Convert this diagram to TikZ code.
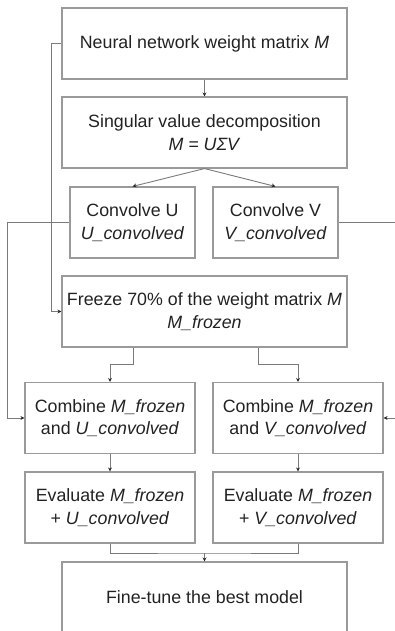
\documentclass[tikz,border=0pt]{standalone}
\usepackage{fontspec}
\setmainfont{Liberation Sans}
\usepackage{tikz}
\usetikzlibrary{arrows.meta,positioning}
\definecolor{boxgray}{HTML}{9A9A9A}
\definecolor{linegray}{HTML}{7A7A7A}
\definecolor{txt}{HTML}{222222}

\begin{document}
\begin{tikzpicture}[x=1pt,y=-1pt,
  box/.style={draw=boxgray, line width=1.1pt, align=center, text=txt,
    font=\fontsize{17.8}{22.5}\selectfont, inner sep=0pt},
  wide/.style={box, minimum width=285pt, minimum height=71pt},
  half/.style={box, minimum width=125pt, minimum height=71pt},
  pair/.style={box, minimum width=170pt, minimum height=71pt},
  flow/.style={draw=linegray, line width=0.9pt},
  arr/.style={flow, -{Stealth[length=4pt,width=4pt,color=black!85]}}]
\useasboundingbox (0,0) rectangle (395,631);
\clip (0,0) rectangle (395,631);
\node (nn) [wide] at (204.5,43.5) {Neural network weight matrix \textit{M}};
\node (svd) [wide] at (204.5,132.5) {Singular value decomposition\\\textit{M = UΣV}};
\node (convu) [half] at (132.5,222.5) {Convolve U\\\textit{U\_convolved}};
\node (convv) [half] at (275.5,222.5) {Convolve V\\\textit{V\_convolved}};
\node (freeze) [wide] at (204.5,311.5) {Freeze 70\% of the weight matrix \textit{M}\\\textit{M\_frozen}};
\node (combu) [pair] at (110,418) {Combine \textit{M\_frozen}\\and \textit{U\_convolved}};
\node (combv) [pair] at (298,418) {Combine \textit{M\_frozen}\\and \textit{V\_convolved}};
\node (evalu) [pair] at (110,507.5) {Evaluate \textit{M\_frozen}\\+ \textit{U\_convolved}};
\node (evalv) [pair] at (298,507.5) {Evaluate \textit{M\_frozen}\\+ \textit{V\_convolved}};
\node (fine) [wide] at (204.5,597.5) {Fine-tune the best model};
\coordinate (join) at (204.5,553);
% main chain
\draw[arr] (nn) -- (svd);
\draw[arr] (svd.south) -- (convu.north);
\draw[arr] (svd.south) -- (convv.north);
\draw[arr] (nn.west) -- ++(-10,0) |- (freeze.west);
\draw[arr] (convu.west) -- ++(-62,0) |- (combu.west);
\draw[arr] (convv.east) -- ++(70,0) |- (combv.east);
\draw[arr] ([xshift=-71.5pt]freeze.south) -- ++(0,17) -| (combu.north);
\draw[arr] ([xshift=53.5pt]freeze.south) -- ++(0,17) -| (combv.north);
\draw[arr] (combu) -- (evalu);
\draw[arr] (combv) -- (evalv);
\draw[flow] (evalu.south) |- (join) -| (evalv.south);
\draw[arr] (join) -- (fine.north);
\end{tikzpicture}
\end{document}
